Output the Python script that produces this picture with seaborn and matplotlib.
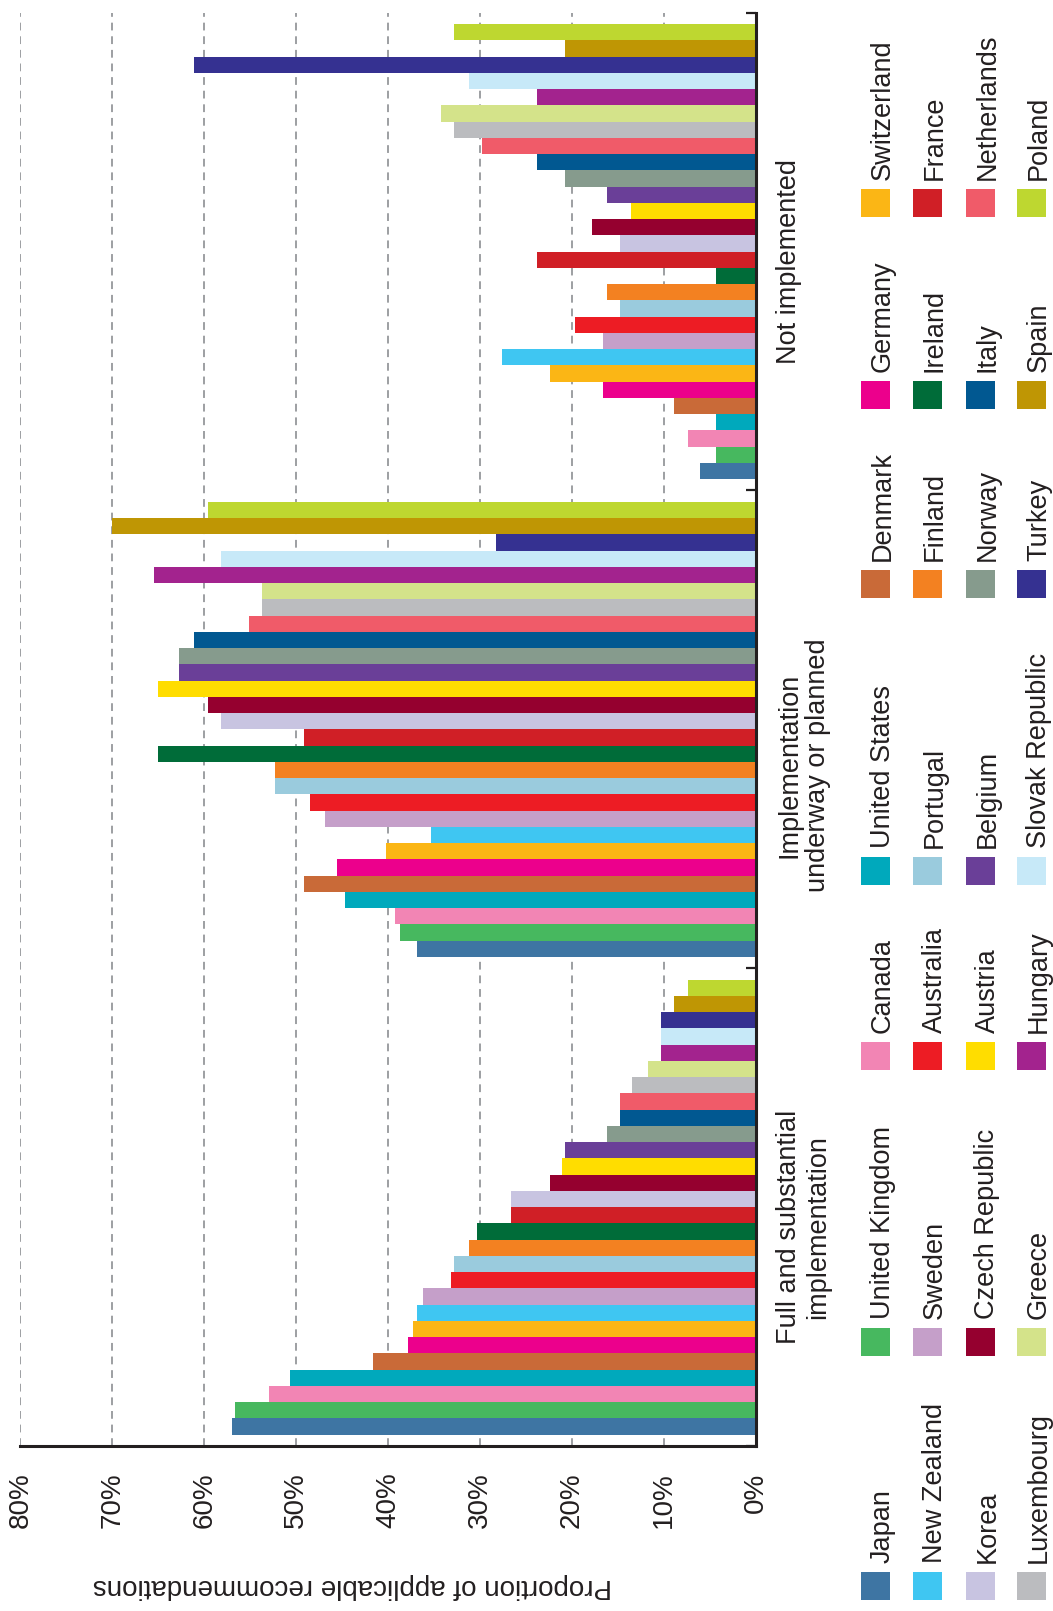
import matplotlib.pyplot as plt
import matplotlib.patches as mpatches
import pandas as pd
import seaborn as sns

sns.set_theme(style="white")
plt.rcParams["font.family"] = ["Liberation Sans", "DejaVu Sans"]

statuses = ["Full and substantial\nimplementation",
            "Implementation\nunderway or planned",
            "Not implemented"]

countries = ["Japan", "United Kingdom", "Canada", "United States", "Denmark", "Germany", "Switzerland",
             "New Zealand", "Sweden", "Australia", "Portugal", "Finland", "Ireland", "France",
             "Korea", "Czech Republic", "Austria", "Belgium", "Norway", "Italy", "Netherlands",
             "Luxembourg", "Greece", "Hungary", "Slovak Republic", "Turkey", "Spain", "Poland"]

colors = ["#3e75a3", "#47b85f", "#f285b4", "#00a9bc", "#c96a38", "#ec008c", "#fbb615",
          "#3fc6f2", "#c59fc9", "#ed1c24", "#9acbdd", "#f38121", "#006c39", "#d01f26",
          "#c8c4e1", "#95002f", "#ffdd00", "#6a3f98", "#869b8d", "#015891", "#f05b69",
          "#bbbcbf", "#d4e38a", "#a3238e", "#c7e9f8", "#353191", "#bf9604", "#bed730"]

# % of applicable recommendations, same order as countries
full_impl = [57.0, 56.6, 52.9, 50.7, 41.6, 37.8, 37.3, 36.8, 36.2, 33.1, 32.8, 31.2, 30.3, 26.6,
             26.6, 22.4, 21.1, 20.7, 16.2, 14.8, 14.8, 13.4, 11.7, 10.3, 10.3, 10.3, 8.9, 7.4]
underway = [36.8, 38.7, 39.2, 44.7, 49.1, 45.5, 40.2, 35.3, 46.9, 48.5, 52.3, 52.3, 65.0, 49.1,
            58.2, 59.6, 65.0, 62.7, 62.7, 61.1, 55.1, 53.7, 53.7, 65.5, 58.2, 28.3, 70.0, 59.6]
not_impl = [6.0, 4.3, 7.4, 4.3, 8.9, 16.6, 22.4, 27.6, 16.6, 19.6, 14.8, 16.2, 4.3, 23.8,
            14.8, 17.8, 13.6, 16.2, 20.7, 23.8, 29.8, 32.8, 34.2, 23.8, 31.2, 61.1, 20.7, 32.8]

df = pd.DataFrame({
    "status": [s for s in statuses for _ in countries],
    "country": countries * 3,
    "value": full_impl + underway + not_impl,
})

W, H = 1053, 1611
ink = "#231f20"
fig = plt.figure(figsize=(W / 100, H / 100), dpi=100)
ax = fig.add_axes([20.4 / W, 1 - 1446 / H, (755.6 - 20.4) / W, (1446 - 12.7) / H])

sns.barplot(data=df, x="value", y="status", hue="country", order=statuses, hue_order=countries,
            palette=colors, orient="h", width=0.952, saturation=1, legend=False,
            errorbar=None, linewidth=0, ax=ax)

ax.set_xlim(80, 0)
ax.set_ylim(-0.5, 2.5)
ax.set_xlabel("")
ax.set_ylabel("")

ticks = list(range(0, 90, 10))
ax.set_xticks(ticks)
ax.set_xticklabels([f"{t}%" for t in ticks], rotation=90, fontsize=20, color=ink)
ax.tick_params(axis="x", length=0, pad=19)

ax.set_yticks([])
ax.set_yticks([-0.5, 0.5, 1.5, 2.5], minor=True)
ax.tick_params(axis="y", which="minor", direction="in", length=7, width=1.6, color=ink,
               right=True, left=False)

ax.set_axisbelow(True)
ax.xaxis.grid(True, linestyle=(0, (4, 3)), color="#9d9fa2", linewidth=1.4)
ax.yaxis.grid(False)

for side in ["top", "left"]:
    ax.spines[side].set_visible(False)
for side in ["right", "bottom"]:
    ax.spines[side].set_linewidth(2.2)
    ax.spines[side].set_color(ink)

# category names sit to the right of the 0% spine
label_shift = [-14.5, -26, -7]
for i, s in enumerate(statuses):
    ax.annotate(s, xy=(1, i), xycoords=("axes fraction", "data"), xytext=(15, label_shift[i]),
                textcoords="offset points", rotation=90, ha="left", va="center",
                multialignment="center", fontsize=19.5, linespacing=1.15, color=ink)

# legend drawn by hand: 4 rows of 7, rotated with the chart
leg_x = [875.5, 927, 980, 1031.5]
leg_y = [1585.6, 1342.2, 1055.6, 870.6, 584.0, 395.0, 202.9]
for k, (name, col) in enumerate(zip(countries, colors)):
    cx, cy = leg_x[k // 7], leg_y[k % 7]
    fig.add_artist(mpatches.Rectangle(((cx - 14.5) / W, 1 - (cy + 14) / H), 29 / W, 28 / H,
                                      transform=fig.transFigure, facecolor=col, linewidth=0))
    fig.text((cx + 14.5) / W, 1 - (cy - 23) / H, name, rotation=90, rotation_mode="anchor",
             ha="left", va="baseline", fontsize=19.5, color=ink)

fig.text(352 / W, 1 - 1586 / H, "Proportion of applicable recommendations", rotation=180,
         ha="center", va="center", fontsize=20, color=ink)

fig.savefig("out.png", dpi=100)
